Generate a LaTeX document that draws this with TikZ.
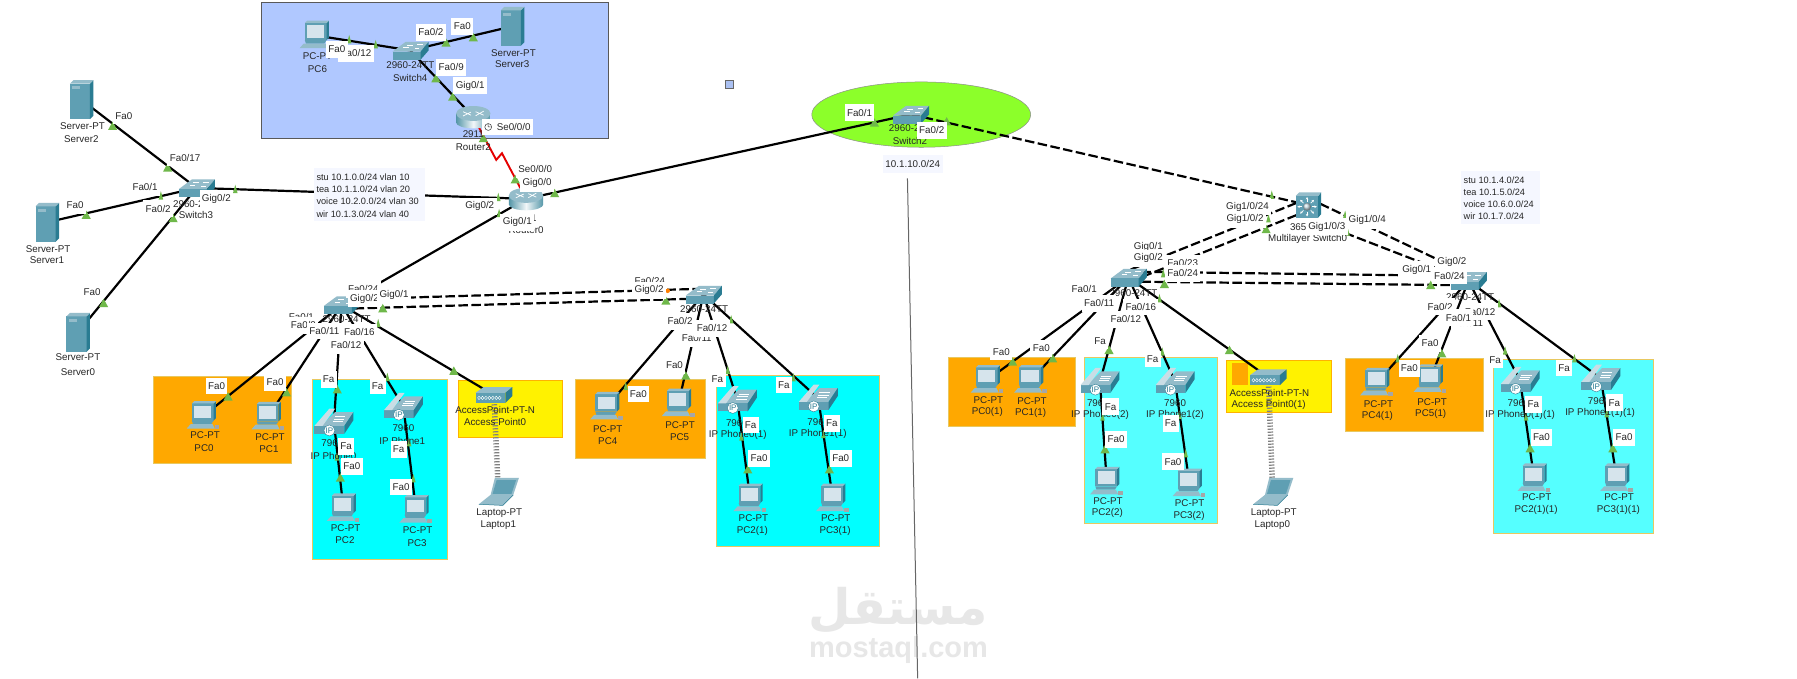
\documentclass[tikz,border=0pt]{standalone}
\usepackage{fontspec}
\setmainfont{Liberation Sans}
\newfontfamily\arabicfont[Script=Arabic]{DejaVu Sans}
\TeXXeTstate=1
\usetikzlibrary{arrows.meta}
\definecolor{tealF}{HTML}{5F9FB3}
\definecolor{tealT}{HTML}{94BCCA}
\definecolor{tealD}{HTML}{2A7C92}
\definecolor{tealL}{HTML}{C9DDE5}
\definecolor{screenC}{HTML}{D6E4EC}
\definecolor{triG}{HTML}{6FB84A}
\definecolor{orangeR}{HTML}{FFA800}
\definecolor{cyanR}{HTML}{00FFFF}
\definecolor{cyanS}{HTML}{55FFFF}
\definecolor{blueR}{HTML}{B0C8FF}
\definecolor{paleB}{HTML}{F5F7FF}
\definecolor{limeR}{HTML}{8CFF2A}
\definecolor{rimY}{HTML}{E8C860}
\definecolor{wmark}{HTML}{E7E7E7}
\tikzset{
  x=1.14605pt,y=-1.14605pt,
  dev/.style={inner sep=0pt,minimum size=0pt},
  link/.style={black,line width=2.2pt},
  dlink/.style={black,line width=2.2pt,dash pattern=on 9.5pt off 3.5pt},
  serial/.style={red!90!black,line width=1.9pt},
  wifi/.style={gray,line width=5.5pt,dash pattern=on 1.2pt off 1.8pt},
  region/.style={line width=0.8pt},
  portlbl/.style={fill=white,inner xsep=2.4pt,inner ysep=0pt,minimum height=16.5pt,font=\fontsize{9.8}{11}\selectfont,text=black!85},
  devlbl/.style={inner sep=0pt,font=\fontsize{9.8}{11}\selectfont,text=black!85},
  infotxt/.style={inner sep=0pt,anchor=west,font=\fontsize{9.2}{11}\selectfont,text=black!85},
}
\newcounter{lc}
\newcommand\pl[3]{\stepcounter{lc}\node[portlbl] (p\thelc) at (#1,#2) {#3};}
\newcommand\dl[3]{\stepcounter{lc}\node[devlbl] (d\thelc) at (#1,#2) {#3};}
\newcommand\il[3]{\stepcounter{lc}\node[infotxt] (i\thelc) at (#1,#2) {#3};}
\newcommand\dev[3]{\node[dev] (#1) at (#2,#3) {};}
\newcommand\trb[2]{\fill[triG] (#1-4,#2+3.5) -- (#1,#2-3.8) -- (#1+4,#2+3.5) -- cycle;}
\newcommand\trs[2]{\fill[triG] (#1-2,#2+3.5) -- (#1,#2-3.8) -- (#1+2,#2+3.5) -- cycle;}
\newcommand\icpc[1]{\begin{scope}[shift={(#1)}]
  \fill[tealF] (-10,-11) rectangle (9,4);
  \fill[tealD] (9,-11) -- (11,-13) -- (11,2) -- (9,4) -- cycle;
  \fill[tealT] (-10,-11) -- (-8,-13) -- (11,-13) -- (9,-11) -- cycle;
  \fill[screenC] (-8,-9) rectangle (7,2);
  \fill[tealF] (-10,4) -- (9,4) -- (7,7) -- (-9,7) -- cycle;
  \fill[tealT] (-11,7) -- (8,7) -- (10,11) -- (-14.5,11) -- cycle;
  \fill[gray!70] (10,8) rectangle (14,11.5);
\end{scope}}
\newcommand\icsrv[1]{\begin{scope}[shift={(#1)}]
  \fill[tealF] (-10,-14) rectangle (7.5,17);
  \fill[tealD] (7.5,-14) -- (10.5,-17) -- (10.5,14) -- (7.5,17) -- cycle;
  \fill[tealT] (-10,-14) -- (-7,-17) -- (10.5,-17) -- (7.5,-14) -- cycle;
  \fill[tealT] (-8,-12) rectangle (-1,-9);
\end{scope}}
\newcommand\icsw[1]{\begin{scope}[shift={(#1)}]
  \fill[tealT] (-15.5,1) -- (-4,-7.5) -- (16,-7.5) -- (9,1) -- cycle;
  \fill[tealF] (-15.5,1) rectangle (9,8);
  \fill[tealD] (9,1) -- (16,-7.5) -- (16,0) -- (9,8) -- cycle;
  \draw[white,line width=0.5pt] (-6,-2.5) -- (-1,-2.5) (-3,-4.8) -- (2,-4.8) (4,-1.5) -- (8,-1.5) (6,-5) -- (11,-5);
\end{scope}}
\newcommand\icrt[1]{\begin{scope}[shift={(#1)}]
  \shade[left color=tealD!80!white,right color=tealD!80!white,middle color=white!92!tealF] (-15,-3) -- (-15,5) arc[start angle=180,end angle=0,x radius=15,y radius=5] -- (15,-3) -- cycle;
  \fill[tealT] (0,-3) ellipse[x radius=15,y radius=6.5];
  \draw[white,line width=0.7pt] (-9,-4.5) -- (-2,-1.5) (2,-4.5) -- (9,-1.5) (-9,-0.8) -- (-2,-4.2) (2,-1) -- (9,-5);
\end{scope}}
\newcommand\icph[1]{\begin{scope}[shift={(#1)}]
  \fill[tealT] (-11,3) -- (1,-9) -- (17,-9) -- (9,3) -- cycle;
  \fill[tealF] (-17,3) rectangle (9,10);
  \fill[tealD] (9,3) -- (17,-9) -- (17,-2) -- (9,10) -- cycle;
  \fill[tealL] (-17,3) -- (-4,-12) -- (1,-12) -- (-10,3) -- cycle;
  \draw[white,line width=0.5pt] (1,-5) -- (10,-5) (0,-3) -- (9,-3) (-1,-1) -- (8,-1);
  \node[dev,circle,fill=white,draw=tealD,line width=0.4pt,minimum size=11pt,font=\fontsize{8}{8}\selectfont,text=tealD] (ip#1) at (-4,7) {IP};
\end{scope}}
\newcommand\iclap[1]{\begin{scope}[shift={(#1)}]
  \fill[tealT] (-7,4) -- (-3,-12) -- (18,-12) -- (13,3) -- cycle;
  \fill[tealF] (-5,2) -- (-1.5,-10) -- (15.5,-10) -- (11.5,2) -- cycle;
  \fill[tealT] (-17,11) -- (-7,3) -- (13,3) -- (4,12) -- cycle;
  \draw[tealD,line width=0.5pt] (-17,11) -- (4,12) -- (13,3);
\end{scope}}
\newcommand\icap[1]{\begin{scope}[shift={(#1)}]
  \fill[tealT] (-16,-2) -- (-9,-7) -- (16,-7) -- (10,-2) -- cycle;
  \fill[tealF] (-16,-2) rectangle (10,7);
  \fill[tealD] (10,-2) -- (16,-7) -- (16,1) -- (10,7) -- cycle;
  \foreach \k in {-13,-10,-7,-4,-1,2,5}{\draw[white,line width=0.4pt] (\k,2.5) ellipse[x radius=1.3,y radius=1.5];}
\end{scope}}
\newcommand\icmls[1]{\begin{scope}[shift={(#1)}]
  \fill[tealF] (-11,-8) rectangle (8.5,11);
  \fill[tealD] (8.5,-8) -- (11,-11) -- (11,8) -- (8.5,11) -- cycle;
  \fill[tealT] (-11,-8) -- (-8,-11) -- (11,-11) -- (8.5,-8) -- cycle;
  \shade[ball color=tealL] (-1.2,1.5) circle[radius=3.4];
  \foreach \a in {0,45,...,315}{\draw[white,line width=0.7pt,-{Stealth[length=2.5pt,width=2.5pt]}] ([shift={(\a:4.5)}]-1.2,1.5) -- ([shift={(\a:8.5)}]-1.2,1.5);}
\end{scope}}
\begin{document}
\begin{tikzpicture}
\useasboundingbox (0,0) rectangle (1568,592);
\fill[white] (0,0) rectangle (1568,592);

% watermark
\stepcounter{lc}\node[inner sep=0pt,text=wmark,font=\arabicfont\bfseries\fontsize{49}{52}\selectfont] (wm1) at (784,533) {\beginR مستقل\endR};
\stepcounter{lc}\node[inner sep=0pt,text=wmark,font=\bfseries\fontsize{29}{30}\selectfont] (wm2) at (784,567) {mostaql.com};

% regions
\fill[blueR,draw=black!65,region] (228,2) rectangle (531,121);
\fill[limeR,draw=black!45,line width=0.5pt] (803.8,100) ellipse[x radius=95.5,y radius=28.5];
\fill[orangeR,draw=rimY,region] (133.8,328.7) rectangle (254,404);
\fill[cyanR,draw=rimY,region] (272.5,331) rectangle (390.6,488);
\fill[yellow,draw=orange!60!yellow,region] (399.6,332) rectangle (491,381.3);
\fill[orangeR,draw=rimY,region] (502.4,331) rectangle (615.5,400);
\fill[cyanR,draw=rimY,region] (625.4,327.5) rectangle (767,476.5);
\fill[orangeR,draw=rimY,region] (827.5,312) rectangle (938,372.3);
\fill[cyanS,draw=rimY,region] (946.2,311.8) rectangle (1062.5,457);
\fill[yellow,draw=orange!60!yellow,region] (1070.4,314.1) rectangle (1161.7,359.8);
\fill[orangeR] (1074.7,316.5) rectangle (1089.3,336);
\fill[orangeR,draw=rimY,region] (1173.7,312.7) rectangle (1294,376);
\fill[cyanS,draw=rimY,region] (1303.4,313.6) rectangle (1443,465.7);
\fill[blueR!90!gray,draw=black!60,line width=0.5pt] (633,70) rectangle (640,77);

% device anchors
\dev{pcsix}{276}{31}\dev{swfour}{358}{44}\dev{srvthree}{447}{23}\dev{rtwo}{413}{102}
\dev{srvtwo}{71}{87}\dev{swthree}{171.5}{164}\dev{srvone}{41}{194}\dev{srvzero}{68}{290}
\dev{rzero}{459}{173.5}\dev{swtwo}{794.7}{99.8}\dev{mls}{1141.7}{178.9}
\dev{swa}{298}{266}\dev{swb}{613.8}{256.9}\dev{swc}{984.6}{242}\dev{swd}{1281.3}{244.9}
\dev{pcz}{177.4}{363}\dev{pco}{234}{363.6}\dev{pha}{291.4}{368.6}\dev{phb}{352}{354.9}
\dev{pct}{299.6}{443.6}\dev{pcth}{363}{445}\dev{apz}{431}{344.7}\dev{lapo}{434.8}{429}
\dev{pcf}{529.4}{355}\dev{pcv}{592}{352}\dev{phc}{643.4}{349}\dev{phd}{714}{347.6}
\dev{pctb}{654.5}{434.9}\dev{pcthb}{726.6}{434.9}
\dev{pczc}{861.5}{331.6}\dev{pcoc}{899.3}{331.6}\dev{phe}{959.8}{333}\dev{phf}{1025.3}{333}
\dev{pctc}{965.7}{420.3}\dev{pcthc}{1037.8}{421.8}\dev{apo}{1106.7}{329.3}\dev{lapz}{1110.5}{429}
\dev{pcfd}{1201.3}{333.9}\dev{pcvd}{1247.9}{331}\dev{phg}{1326.4}{332.2}\dev{phh}{1396.8}{330.2}
\dev{pctd}{1338.6}{417.4}\dev{pcthd}{1410.7}{417.4}
\coordinate (divT) at (791.8,155.6);
\coordinate (divB) at (800.7,592);

% connectors
\draw[black!60,line width=1pt] (divT) -- (divB);
\draw[link] (pcsix) -- (swfour);
\draw[link] (swfour) -- (srvthree);
\draw[link] (swfour) -- (rtwo);
\draw[serial] (rtwo) -- (433,139.5) -- (438,133.7) -- (rzero);
\draw[link] (srvtwo) -- (swthree);
\draw[link] (srvone) -- (swthree);
\draw[link] (srvzero) -- (swthree);
\draw[link] (swthree) -- (rzero);
\draw[link] (rzero) -- (swtwo);
\draw[link] (rzero) -- (swa);
\draw[dlink] (swtwo) -- (mls);
\draw[link] (swa) -- (pcz);
\draw[link] (swa) -- (pco);
\draw[link] (swa) -- (pha);
\draw[link] (swa) -- (phb);
\draw[link] (swa) -- (apz);
\draw[link] (pha) -- (pct);
\draw[link] (phb) -- (pcth);
\draw[wifi] (apz) -- (lapo);
\draw[dlink] ([shift={(0,-4.6)}]swa.center) -- ([shift={(0,-5)}]swb.center);
\draw[dlink] ([shift={(0,3.5)}]swa.center) -- ([shift={(0,3.5)}]swb.center);
\draw[link] (swb) -- (pcf);
\draw[link] (swb) -- (pcv);
\draw[link] (swb) -- (phc);
\draw[link] (swb) -- (phd);
\draw[link] (phc) -- (pctb);
\draw[link] (phd) -- (pcthb);
\draw[dlink] ([shift={(0,-6)}]mls.center) -- ([shift={(0,-6)}]swc.center);
\draw[dlink] ([shift={(0,4.6)}]mls.center) -- ([shift={(0,4.4)}]swc.center);
\draw[dlink] ([shift={(0,-6)}]mls.center) -- ([shift={(0,-5.7)}]swd.center);
\draw[dlink] ([shift={(0,12)}]mls.center) -- (swd);
\draw[dlink] ([shift={(0,-5)}]swc.center) -- ([shift={(0,-4)}]swd.center);
\draw[dlink] ([shift={(0,3.7)}]swc.center) -- ([shift={(0,4)}]swd.center);
\draw[link] (swc) -- (pczc);
\draw[link] (swc) -- (pcoc);
\draw[link] (swc) -- (phe);
\draw[link] (swc) -- (phf);
\draw[link] (swc) -- (apo);
\draw[link] (phe) -- (pctc);
\draw[link] (phf) -- (pcthc);
\draw[wifi] (apo) -- (lapz);
\draw[link] (swd) -- (pcfd);
\draw[link] (swd) -- (pcvd);
\draw[link] (swd) -- (phg);
\draw[link] (swd) -- (phh);
\draw[link] (phg) -- (pctd);
\draw[link] (phh) -- (pcthd);

% info boxes
\fill[paleB] (274,147) rectangle (371,193);
\fill[paleB] (770.8,135) rectangle (822.6,150.7);
\fill[paleB] (1274.9,149.2) rectangle (1343.8,195.7);

% link lights
\trs{304.7}{34.3}\trs{327.8}{38.7}\trb{389.2}{37.2}\trb{413}{32.6}\trb{380.3}{68.3}\trb{395}{84.3}\trb{421.7}{120.6}
\trb{98.3}{109.9}\trb{146.3}{146.2}\trs{140.4}{170.6}\trb{75.2}{187.5}\trb{151.1}{190.4}\trb{90.4}{264.5}\trs{205.3}{165}
\trs{434.8}{172}\trs{435.5}{186}\trb{449.6}{156.4}\trb{484}{168.6}
\trb{199}{346}\trb{250}{342.4}\trb{294.3}{339.8}\trs{338}{329}\trb{396}{323.5}\trb{297}{416.8}\trs{360.7}{417.4}\trb{334}{269}\trs{330}{282}\trs{294}{398.5}\trs{357}{386}
\fill[orange] (582.6,253.7) circle[radius=2];
\trb{581}{262.4}\trs{638}{278.7}\trs{546}{336.9}\trb{598.4}{327.8}\trs{635}{323}\trs{692.3}{329.3}\trb{652.5}{409.6}\trb{723.7}{409.6}\trs{647}{381}\trs{718.5}{378.8}
\trb{763}{107}\trb{826}{106}
\trs{1109.7}{170}\trs{1106.8}{190.5}\trb{1104.8}{200}\trs{1173.7}{187.6}\trs{1175.8}{202}\trs{1015}{238.5}\trb{1016}{247.8}\trs{1011.7}{260.3}\trb{1248.4}{248.7}\trs{1308}{264.7}\trb{1072.8}{305.4}
\trb{883.6}{315.6}\trb{918.5}{312.7}\trb{967.7}{305.4}\trs{1014.2}{306.9}\trs{962}{363.6}\trs{1029}{362}\trb{964.2}{392}\trs{1034.6}{395.6}
\trb{1258}{308.3}\trs{1219.6}{312.7}\trs{1313.3}{306}\trs{1373.8}{312.7}\trb{1335.1}{391.2}\trb{1407.3}{391.2}\trs{1331.6}{363.6}\trs{1402}{360.7}

% icons
\icpc{pcsix}\icsw{swfour}\icsrv{srvthree}\icrt{rtwo}
\icsrv{srvtwo}\icsw{swthree}\icsrv{srvone}\icsrv{srvzero}\icrt{rzero}\icsw{swtwo}\icmls{mls}
\icsw{swa}\icsw{swb}\icsw{swc}\icsw{swd}
\icpc{pcz}\icpc{pco}\icph{pha}\icph{phb}\icpc{pct}\icpc{pcth}\icap{apz}\iclap{lapo}
\icpc{pcf}\icpc{pcv}\icph{phc}\icph{phd}\icpc{pctb}\icpc{pcthb}
\icpc{pczc}\icpc{pcoc}\icph{phe}\icph{phf}\icpc{pctc}\icpc{pcthc}\icap{apo}\iclap{lapz}
\icpc{pcfd}\icpc{pcvd}\icph{phg}\icph{phh}\icpc{pctd}\icpc{pcthd}

% info texts
\il{276}{155}{stu 10.1.0.0/24 vlan 10}\il{276}{165.5}{tea 10.1.1.0/24 vlan 20}\il{276}{176}{voice 10.2.0.0/24 vlan 30}\il{276}{186.5}{wir 10.1.3.0/24 vlan 40}
\il{1277}{157.6}{stu 10.1.4.0/24}\il{1277}{168.1}{tea 10.1.5.0/24}\il{1277}{178.6}{voice 10.6.0.0/24}\il{1277}{189}{wir 10.1.7.0/24}
\dl{796.4}{142.8}{10.1.10.0/24}

% device labels
\dl{277}{49}{PC-PT}\dl{277}{60}{PC6}\dl{358}{57}{2960-24TT}\dl{358}{68}{Switch4}\dl{448}{46}{Server-PT}\dl{447}{56}{Server3}\dl{413}{117}{2911}\dl{413}{128}{Router2}
\dl{72}{110}{Server-PT}\dl{71}{121}{Server2}\dl{172}{178}{2960-24TT}\dl{171}{188}{Switch3}\dl{42}{217}{Server-PT}\dl{41}{227}{Server1}\dl{68}{312}{Server-PT}\dl{68}{325}{Server0}
\dl{459}{190}{2911}\dl{459}{200.5}{Router0}
\dl{796.6}{112}{2960-24TT}\dl{794}{122.8}{Switch2}
\dl{1147}{197.8}{3650-24PS}\dl{1141}{208.2}{Multilayer Switch0}
\dl{302.5}{278.7}{2960-24TT}\dl{614.4}{270}{2960-24TT}\dl{989}{255.4}{2960-24TT}\dl{1282.8}{258.9}{2960-24TT}
\dl{179}{380}{PC-PT}\dl{178}{390.6}{PC0}\dl{235.6}{381.7}{PC-PT}\dl{234.7}{392}{PC1}
\dl{290}{387}{7960}\dl{291}{397.6}{IP Phone0}\dl{352}{373.8}{7960}\dl{351}{384.5}{IP Phone1}
\dl{301.6}{460.5}{PC-PT}\dl{301}{471}{PC2}\dl{364.4}{463}{PC-PT}\dl{364}{473.6}{PC3}
\dl{432}{357.5}{AccessPoint-PT-N}\dl{432}{368}{Access Point0}\dl{435.7}{447.4}{Laptop-PT}\dl{434.8}{457.8}{Laptop1}
\dl{530.3}{374.6}{PC-PT}\dl{530.3}{385}{PC4}\dl{593.4}{371}{PC-PT}\dl{593}{381.6}{PC5}
\dl{643}{369.4}{7960}\dl{643.7}{379.6}{IP Phone0(1)}\dl{714}{368}{7960}\dl{713.5}{378.4}{IP Phone1(1)}
\dl{657.4}{452}{PC-PT}\dl{656.5}{463}{PC2(1)}\dl{729.2}{452}{PC-PT}\dl{728.7}{463}{PC3(1)}
\dl{862.4}{348.8}{PC-PT}\dl{861.5}{359.2}{PC0(1)}\dl{900.5}{349.6}{PC-PT}\dl{899.3}{360}{PC1(1)}
\dl{958}{352}{7960}\dl{959.8}{362.4}{IP Phone0(2)}\dl{1025.3}{351.4}{7960}\dl{1025.3}{361.9}{IP Phone1(2)}
\dl{966.8}{437}{PC-PT}\dl{966.2}{447.4}{PC2(2)}\dl{1038}{439.2}{PC-PT}\dl{1037.5}{450}{PC3(2)}
\dl{1107.6}{342.7}{AccessPoint-PT-N}\dl{1107}{353.1}{Access Point0(1)}\dl{1111.4}{447.4}{Laptop-PT}\dl{1110.2}{457.8}{Laptop0}
\dl{1202.8}{352.3}{PC-PT}\dl{1201.9}{362.7}{PC4(1)}\dl{1249.6}{350.5}{PC-PT}\dl{1248.4}{361}{PC5(1)}
\dl{1325}{351.4}{7960}\dl{1326.4}{361.9}{IP Phone0(1)(1)}\dl{1395}{350}{7960}\dl{1396.2}{360.4}{IP Phone1(1)(1)}
\dl{1340.9}{434}{PC-PT}\dl{1340.4}{444.8}{PC2(1)(1)}\dl{1412.8}{434}{PC-PT}\dl{1412.2}{444.8}{PC3(1)(1)}

% port labels
\pl{310.6}{46.5}{Fa0/12}\pl{294}{43}{Fa0}\pl{376}{28.2}{Fa0/2}\pl{403.4}{23}{Fa0}\pl{393.7}{58.7}{Fa0/9}\pl{410.3}{74.7}{Gig0/1}
\pl{443}{110.8}{\hspace{12pt}Se0/0/0}
\pl{108}{100.9}{Fa0}\pl{161.5}{137.5}{Fa0/17}\pl{126.6}{163.4}{Fa0/1}\pl{65.6}{179.4}{Fa0}\pl{138}{182}{Fa0/2}\pl{188.8}{173.3}{Gig0/2}\pl{80.4}{255}{Fa0}
\pl{467}{147.7}{Se0/0/0}\pl{468.6}{160}{Gig0/0}\pl{418.6}{180}{Gig0/2}\pl{451.4}{194}{Gig0/1}
\pl{750}{98.3}{Fa0/1}\pl{813}{113.7}{Fa0/2}
\pl{317}{252.5}{Fa0/24}\pl{318}{260.6}{Gig0/2}\pl{343.8}{257}{Gig0/1}
\pl{263}{277}{Fa0/1}\pl{264.7}{284}{Fa0/2}\pl{283}{289}{Fa0/11}\pl{313.5}{290}{Fa0/16}\pl{302}{301.4}{Fa0/12}
\pl{189}{337}{Fa0}\pl{240}{333.6}{Fa0}\pl{286.8}{331}{Fa}\pl{329.5}{337}{Fa}\pl{302}{389.6}{Fa}\pl{307}{407}{Fa0}\pl{347.9}{392}{Fa}\pl{350}{425}{Fa0}
\pl{567}{245}{Fa0/24}\pl{566.4}{253.4}{Gig0/2}\pl{593.4}{280.4}{Fa0/2}\pl{608}{295.3}{Fa0/11}\pl{621.3}{286.5}{Fa0/12}
\pl{557}{344}{Fa0}\pl{588.5}{319}{Fa0}\pl{626}{330.5}{Fa}\pl{684}{336}{Fa}\pl{655}{371}{Fa}\pl{725.8}{369.4}{Fa}\pl{662.4}{400}{Fa0}\pl{733.6}{400}{Fa0}
\pl{1088.5}{180.3}{Gig1/0/24}\pl{1086.4}{191.4}{Gig1/0/2}\pl{1157.7}{197.8}{Gig1/0/3}\pl{1193}{192.2}{Gig1/0/4}
\pl{1002}{215.8}{Gig0/1}\pl{1002}{225.4}{Gig0/2}\pl{1032}{229.8}{Fa0/23}\pl{1032}{238.5}{Fa0/24}
\pl{946}{252}{Fa0/1}\pl{959}{264.7}{Fa0/11}\pl{982.3}{278.6}{Fa0/12}\pl{995.4}{268}{Fa0/16}
\pl{873.7}{306.9}{Fa0}\pl{908.6}{304}{Fa0}\pl{959.8}{297.6}{Fa}\pl{1005.8}{313.3}{Fa}\pl{969}{354.9}{Fa}\pl{973.8}{383.4}{Fa0}\pl{1021.5}{369.4}{Fa}\pl{1023.5}{402.9}{Fa0}
\pl{1266.8}{228.3}{Gig0/2}\pl{1236.2}{235.3}{Gig0/1}\pl{1264.7}{240.5}{Fa0/24}
\pl{1256.6}{267.6}{Fa0/2}\pl{1281}{282.2}{Fa0/11}\pl{1291.5}{272}{Fa0/12}\pl{1272.6}{277.2}{Fa0/1}
\pl{1247.9}{299.6}{Fa0}\pl{1229.8}{321.4}{Fa0}\pl{1304.6}{313.9}{Fa}\pl{1364.8}{320.9}{Fa}\pl{1338}{352.8}{Fa}\pl{1408.7}{351.4}{Fa}\pl{1345}{381.6}{Fa0}\pl{1417.1}{381.6}{Fa0}

% clock on Router2 serial port
\draw[black!80,line width=0.5pt] (426,110.8) circle[radius=3] (426,110.8) -- (426,108.6) (426,110.8) -- (427.8,110.8);
\end{tikzpicture}
\end{document}
